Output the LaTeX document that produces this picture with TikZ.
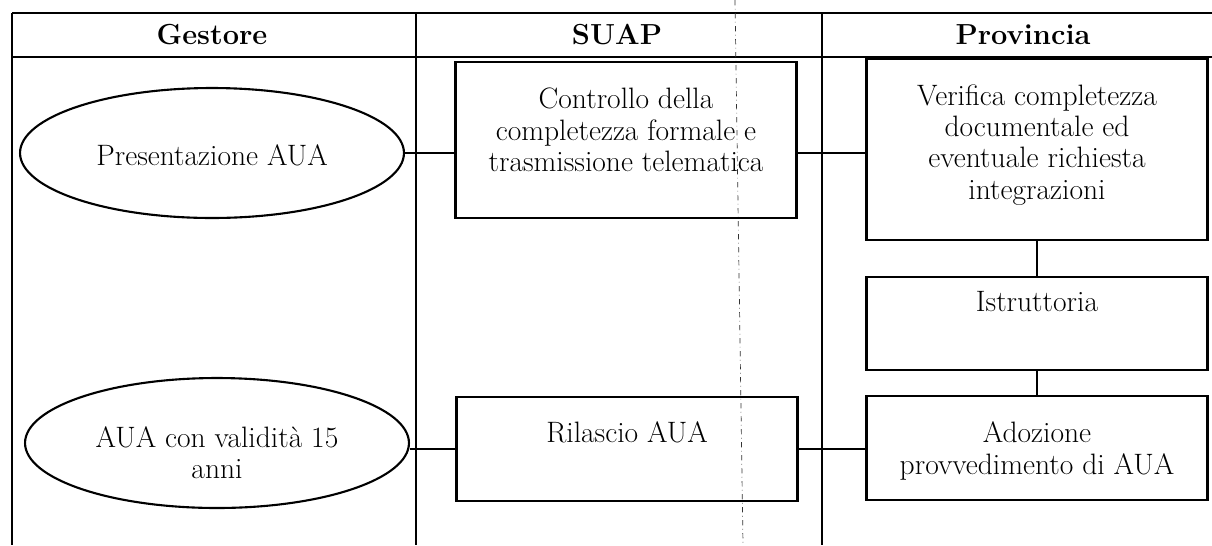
\documentclass[tikz,border=0pt]{standalone}
\usepackage{amsmath, amssymb}
\usepackage{xcolor}
\usepackage{tikz}
\usetikzlibrary{shapes, arrows, positioning}

\begin{document}
\begin{tikzpicture}[x=0.02cm, y=-0.02cm,
        lane/.style={line width=0.6pt},
        stepbox/.style={draw, line width=1.2pt, minimum width=6.82cm, inner sep=0pt},
        terminal/.style={draw, ellipse, line width=1.2pt, minimum width=7.68cm, minimum height=2.6cm, inner sep=0pt},
        txt/.style={align=center, font=\fontsize{16.8}{17.8}\selectfont},
        lanehead/.style={font=\fontsize{16.5}{18}\selectfont\bfseries},
        link/.style={line width=1pt}]
        \useasboundingbox (0,0) rectangle (1212,545);

        % Table frame and lanes
        \draw[lane] (12,13) -- (1212,13);
        \draw[lane] (12,57) -- (1212,57);
        \draw[lane] (12,13) -- (12,545);
        \draw[lane] (416,13) -- (416,545);
        \draw[lane] (822,13) -- (822,545);
        \draw[line width=0.4pt, dash dot, black!80] (735,0) -- (743,545);

        \node[lanehead] (gestore) at (212,35) {Gestore};
        \node[lanehead] (suap) at (617,35) {SUAP};
        \node[lanehead] (provincia) at (1023,35) {Provincia};

        % Gestore
        \node[terminal] (pres) at (212,153) {};
        \node[txt] (pres-t) at (212,155) {Presentazione AUA};
        \node[terminal] (aua) at (217,443) {};
        \node[txt] (aua-t) at (217,453) {AUA con validità 15\\anni};

        % SUAP
        \node[stepbox, minimum height=3.12cm] (controllo) at (626,140) {};
        \node[txt] (controllo-t) at (626,130) {Controllo della\\completezza formale e\\trasmissione telematica};
        \node[stepbox, minimum height=2.08cm] (rilascio) at (627,449) {};
        \node[txt] (rilascio-t) at (627,432) {Rilascio AUA};

        % Provincia
        \node[stepbox, minimum height=3.62cm] (verifica) at (1037,149.5) {};
        \node[txt] (verifica-t) at (1037,145) {Verifica completezza\\documentale ed\\eventuale richiesta\\integrazioni};
        \node[stepbox, minimum height=1.86cm] (istruttoria) at (1037,323.5) {};
        \node[txt] (istruttoria-t) at (1037,302) {Istruttoria};
        \node[stepbox, minimum height=2.08cm] (adozione) at (1037,448) {};
        \node[txt] (adozione-t) at (1037,451) {Adozione\\provvedimento di AUA};

        % Connections
        \draw[link] (pres.east) -- (pres.east -| controllo.west);
        \draw[link, line width=1.4pt] (controllo.east |- pres.east) -- (verifica.west |- pres.east);
        \draw[link, line width=1.4pt] (verifica.south) -- (istruttoria.north);
        \draw[link, line width=1.4pt] (istruttoria.south) -- (adozione.north);
        \draw[link] (aua.east |- rilascio.west) -- (rilascio.west);
        \draw[link, line width=1.4pt] (rilascio.east) -- (adozione.west |- rilascio.east);
    \end{tikzpicture}
\end{document}
